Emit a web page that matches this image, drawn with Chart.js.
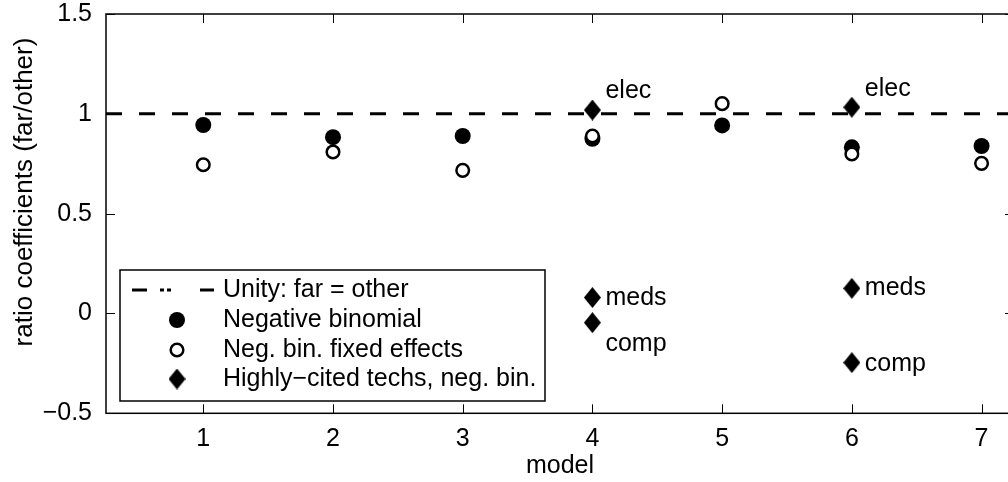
<!DOCTYPE html>
<html>
<head>
<meta charset="utf-8">
<script src="https://cdn.jsdelivr.net/npm/chart.js@4.4.0/dist/chart.umd.min.js"></script>
<style>
html, body { margin: 0; padding: 0; background: #fff; overflow: hidden; }
#wrap { width: 1024px; height: 482px; }
</style>
</head>
<body>
<div id="wrap"><canvas id="chart" width="1024" height="482"></canvas></div>
<script>
// data
var models = [1, 2, 3, 4, 5, 6, 7];
var xTicks = [1, 2, 3, 4, 5, 6, 7];
var yTicks = [-0.5, 0, 0.5, 1, 1.5];
var unityX = [0.25, 7.25];
var unityY = [1, 1];
var negBin = [0.944, 0.883, 0.889, 0.875, 0.942, 0.832, 0.839];
var negBinFE = [0.745, 0.809, 0.717, 0.889, 1.051, 0.799, 0.752];
var techModel = [4, 4, 4, 6, 6, 6];
var techValue = [1.019, 0.080, -0.046, 1.033, 0.126, -0.246];
var techLabel = ['elec', 'meds', 'comp', 'elec', 'meds', 'comp'];
var techLabelDy = [-19, 1, 21, -18, 0, 2]; // text offset in px

var FONT = "'Liberation Sans', Arial, Helvetica, sans-serif";
var FS = 25;

// diamond marker
function makeDiamond(w, h) {
    var c = document.createElement('canvas');
    c.width = w; c.height = h;
    var g = c.getContext('2d');
    g.fillStyle = '#000';
    g.beginPath();
    g.moveTo(w / 2, 0);
    g.lineTo(w, h / 2);
    g.lineTo(w / 2, h);
    g.lineTo(0, h / 2);
    g.closePath();
    g.fill();
    return c;
}
var diamond = makeDiamond(17, 21);

function pts(xs, ys) {
    return xs.map(function (x, i) { return { x: x, y: ys[i] }; });
}

function fmtNum(v) {
    return v < 0 ? '\u2212' + Math.abs(v) : String(v);
}

var framePlugin = {
    id: 'matlabFrame',
    afterDraw: function (chart) {
        var ctx = chart.ctx;
        var a = chart.chartArea;
        var xs = chart.scales.x, ys = chart.scales.y;
        ctx.save();
        ctx.strokeStyle = '#000';
        ctx.lineWidth = 1.5;
        ctx.strokeRect(a.left, a.top, a.right - a.left, a.bottom - a.top);
        // inward ticks
        ctx.lineWidth = 1;
        ctx.beginPath();
        xTicks.forEach(function (t) {
            var px = Math.round(xs.getPixelForValue(t)) + 0.5;
            ctx.moveTo(px, a.bottom); ctx.lineTo(px, a.bottom - 9);
            ctx.moveTo(px, a.top); ctx.lineTo(px, a.top + 9);
        });
        yTicks.forEach(function (t) {
            var py = Math.round(ys.getPixelForValue(t)) + 0.5;
            ctx.moveTo(a.left, py); ctx.lineTo(a.left + 9, py);
            ctx.moveTo(a.right, py); ctx.lineTo(a.right - 9, py);
        });
        ctx.stroke();

        // labels next to the highly-cited diamonds
        ctx.fillStyle = '#000';
        ctx.font = FS + 'px ' + FONT;
        ctx.textBaseline = 'middle';
        ctx.textAlign = 'left';
        techLabel.forEach(function (lab, i) {
            var px = xs.getPixelForValue(techModel[i]) + 13;
            var py = ys.getPixelForValue(techValue[i]) + techLabelDy[i];
            ctx.fillText(lab, px, py);
        });

        // axis titles
        ctx.textAlign = 'center';
        ctx.fillText('model', (a.left + a.right) / 2, 466);
        ctx.save();
        ctx.translate(25, 192);
        ctx.rotate(-Math.PI / 2);
        ctx.font = '26px ' + FONT;
        ctx.fillText('ratio coefficients (far/other)', 0, 0);
        ctx.restore();

        // legend
        var lx = 120, ly = 270, lw = 425, lh = 131;
        ctx.fillStyle = '#fff';
        ctx.fillRect(lx, ly, lw, lh);
        ctx.lineWidth = 1.5;
        ctx.strokeRect(lx, ly, lw, lh);
        var rows = [290, 320, 350, 379];
        var sx = 177, tx = 223;
        ctx.fillStyle = '#000';
        ctx.textAlign = 'left';
        chart.data.datasets.forEach(function (ds, i) {
            ctx.fillText(ds.label, tx, rows[i]);
        });
        // line sample
        ctx.lineWidth = 3;
        ctx.beginPath();
        [[132, 147], [160, 164], [167, 171], [200, 214]].forEach(function (s) {
            ctx.moveTo(s[0], rows[0]); ctx.lineTo(s[1], rows[0]);
        });
        ctx.stroke();
        // filled circle
        ctx.beginPath();
        ctx.arc(sx, rows[1], 8, 0, Math.PI * 2);
        ctx.fill();
        // open circle
        ctx.lineWidth = 2.5;
        ctx.beginPath();
        ctx.arc(sx, rows[2], 6.3, 0, Math.PI * 2);
        ctx.stroke();
        // diamond
        ctx.drawImage(diamond, sx - 8.5, rows[3] - 10.5);
        ctx.restore();
    }
};

var ctx = document.getElementById('chart');
var chart = new Chart(ctx, {
    type: 'scatter',
    data: {
        datasets: [
            {
                label: 'Unity: far = other',
                type: 'line',
                data: pts(unityX, unityY),
                borderColor: '#000',
                borderWidth: 3,
                borderDash: [16, 17],
                pointRadius: 0,
                order: 4
            },
            {
                label: 'Negative binomial',
                data: pts(models, negBin),
                pointStyle: 'circle',
                pointRadius: 8,
                backgroundColor: '#000',
                borderColor: '#000',
                borderWidth: 0,
                order: 3
            },
            {
                label: 'Neg. bin. fixed effects',
                data: pts(models, negBinFE),
                pointStyle: 'circle',
                pointRadius: 6.3,
                backgroundColor: '#fff',
                borderColor: '#000',
                borderWidth: 2.5,
                order: 2
            },
            {
                label: 'Highly\u2212cited techs, neg. bin.',
                data: pts(techModel, techValue),
                pointStyle: diamond,
                pointRadius: 9,
                order: 1
            }
        ]
    },
    options: {
        responsive: false,
        animation: false,
        events: [],
        layout: { padding: { top: 14, right: 8.5, left: 0, bottom: 0 } },
        plugins: {
            legend: { display: false },
            tooltip: { enabled: false }
        },
        scales: {
            x: {
                type: 'linear',
                min: 0.25,
                max: 7.25,
                afterBuildTicks: function (s) {
                    s.ticks = xTicks.map(function (v) { return { value: v }; });
                },
                afterFit: function (s) {
                    s.height = 68.7;
                    s.paddingLeft = 0; s.paddingRight = 0;
                },
                grid: { display: false },
                border: { display: false },
                ticks: {
                    color: '#000',
                    padding: 3,
                    maxRotation: 0,
                    font: { family: FONT, size: FS },
                    callback: function (v) { return fmtNum(v); }
                }
            },
            y: {
                type: 'linear',
                min: -0.5,
                max: 1.5,
                afterBuildTicks: function (s) {
                    s.ticks = yTicks.map(function (v) { return { value: v }; });
                },
                afterFit: function (s) {
                    s.width = 106;
                    s.paddingTop = 0; s.paddingBottom = 0;
                },
                grid: { display: false },
                border: { display: false },
                ticks: {
                    color: '#000',
                    padding: 6,
                    font: { family: FONT, size: FS },
                    callback: function (v) { return fmtNum(v); }
                }
            }
        }
    },
    plugins: [framePlugin]
});
</script>
</body>
</html>
